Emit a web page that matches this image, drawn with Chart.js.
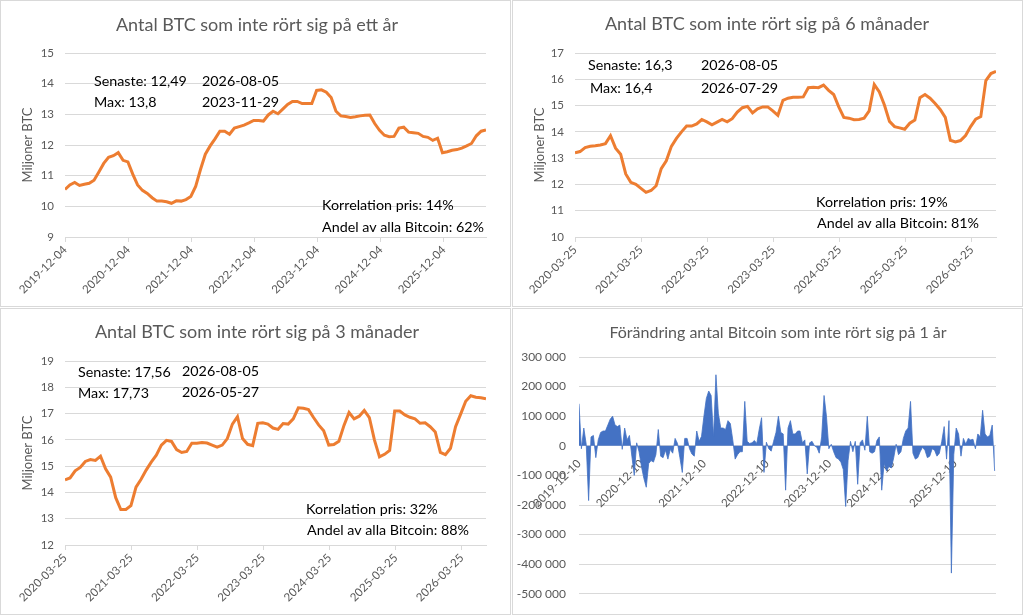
<!DOCTYPE html>
<html>
<head>
<meta charset="utf-8">
<script src="https://cdn.jsdelivr.net/npm/chart.js@4.4.1/dist/chart.umd.min.js"></script>
<style>
  body { margin: 0; background: #fff; width: 1024px; height: 616px; overflow: hidden; }
  .panel { position: absolute; width: 511px; height: 307px; box-sizing: border-box; border: 1px solid #d9d9d9; background: #fff; }
  .panel canvas { position: absolute; left: 0; top: 0; }
</style>
</head>
<body>
<div class="panel" style="left:0;top:0"><canvas id="c1y" width="509" height="305"></canvas></div>
<div class="panel" style="left:512px;top:0"><canvas id="c6m" width="509" height="305"></canvas></div>
<div class="panel" style="left:0;top:308px"><canvas id="c3m" width="509" height="305"></canvas></div>
<div class="panel" style="left:512px;top:308px"><canvas id="cchg" width="509" height="305"></canvas></div>
<script>
// miljoner BTC, one reading every 28 days
const start1y = '2019-12-04';
const end1y = '2026-08-05';
const ticks1y = ['2019-12-04', '2020-12-04', '2021-12-04', '2022-12-04', '2023-12-04', '2024-12-04', '2025-12-04'];
const values1y = [
  10.55, 10.7, 10.78, 10.68, 10.72, 10.75, 10.85, 11.12, 11.4, 11.6,
  11.65, 11.75, 11.5, 11.45, 11.05, 10.7, 10.52, 10.42, 10.28, 10.17,
  10.17, 10.15, 10.1, 10.18, 10.17, 10.22, 10.32, 10.65, 11.2, 11.7,
  11.97, 12.2, 12.45, 12.45, 12.35, 12.55, 12.6, 12.65, 12.72, 12.8,
  12.8, 12.78, 12.98, 13.1, 13.02, 13.17, 13.32, 13.42, 13.42, 13.35,
  13.35, 13.35, 13.78, 13.8, 13.72, 13.55, 13.1, 12.95, 12.93, 12.9,
  12.92, 12.95, 12.97, 12.98, 12.7, 12.48, 12.32, 12.27, 12.28, 12.55,
  12.58, 12.42, 12.4, 12.38, 12.28, 12.25, 12.15, 12.22, 11.75, 11.78,
  11.83, 11.85, 11.9, 11.97, 12.05, 12.3, 12.45, 12.49
];

const start6m = '2020-03-25';
const end6m = '2026-08-05';
const ticks6m = ['2020-03-25', '2021-03-25', '2022-03-25', '2023-03-25', '2024-03-25', '2025-03-25', '2026-03-25'];
const values6m = [
  13.2, 13.25, 13.4, 13.45, 13.47, 13.5, 13.55, 13.85, 13.38, 13.15,
  12.4, 12.08, 12.0, 11.85, 11.7, 11.77, 11.95, 12.6, 12.9, 13.45,
  13.75, 14.0, 14.22, 14.22, 14.3, 14.47, 14.38, 14.27, 14.37, 14.47,
  14.38, 14.5, 14.75, 14.92, 14.97, 14.72, 14.88, 14.95, 14.95, 14.8,
  14.63, 15.2, 15.28, 15.32, 15.32, 15.33, 15.68, 15.7, 15.68, 15.78,
  15.58, 15.42, 14.95, 14.55, 14.52, 14.46, 14.47, 14.52, 14.8, 15.8,
  15.52, 15.02, 14.4, 14.2, 14.15, 14.1, 14.33, 14.45, 15.3, 15.42,
  15.28, 15.08, 14.85, 14.55, 13.68, 13.62, 13.67, 13.86, 14.2, 14.48,
  14.58, 15.95, 16.22, 16.3
];

const start3m = '2020-03-25';
const end3m = '2026-08-05';
const ticks3m = ['2020-03-25', '2021-03-25', '2022-03-25', '2023-03-25', '2024-03-25', '2025-03-25', '2026-03-25'];
const values3m = [
  14.48, 14.55, 14.82, 14.95, 15.18, 15.25, 15.22, 15.38, 14.9, 14.58,
  13.8, 13.35, 13.35, 13.5, 14.2, 14.5, 14.85, 15.15, 15.42, 15.8,
  15.98, 15.94, 15.63, 15.52, 15.56, 15.87, 15.87, 15.9, 15.88, 15.8,
  15.72, 15.8, 16.05, 16.6, 16.88, 16.05, 15.83, 15.78, 16.63, 16.65,
  16.6, 16.45, 16.4, 16.62, 16.6, 16.8, 17.22, 17.2, 17.15, 16.85,
  16.57, 16.35, 15.8, 15.82, 15.95, 16.55, 17.04, 16.8, 16.9, 17.12,
  16.85, 16.0, 15.35, 15.45, 15.6, 17.1, 17.1, 16.95, 16.86, 16.8,
  16.63, 16.65, 16.5, 16.3, 15.52, 15.44, 15.68, 16.5, 16.98, 17.47,
  17.68, 17.62, 17.6, 17.56
];

// change in BTC unmoved for 1 year, one reading every 14 days
const startChg = '2019-12-10';
const endChg = '2026-08-05';
const ticksChg = ['2019-12-10', '2020-12-10', '2021-12-10', '2022-12-10', '2023-12-10', '2024-12-10', '2025-12-10'];
const valuesChg = [
  142000, -10000, 60000, 5000, -185000, 30000, 35000, -40000, 20000, 45000,
  50000, 50000, 70000, 90000, 100000, 70000, 65000, 70000, -12000, 60000,
  20000, 35000, -35000, -100000, 10000, -20000, -70000, -110000, -140000, -60000,
  -50000, -55000, -30000, 55000, -35000, -40000, -15000, -45000, -12000, -25000,
  25000, 8000, -40000, -90000, 25000, 25000, -10000, -28000, -35000, 50000,
  15000, 32000, 100000, 160000, 185000, 170000, 30000, 240000, 110000, 60000,
  60000, 55000, 85000, 75000, 20000, -45000, -30000, -20000, -20000, 150000,
  15000, 8000, 10000, 18000, 8000, 55000, 95000, -90000, 12000, -10000,
  -18000, 15000, 45000, 100000, 45000, 40000, -150000, 60000, 85000, 40000,
  40000, 50000, 50000, 10000, 20000, -95000, 10000, 15000, 0, -5000,
  -25000, 30000, 170000, 100000, -10000, 5000, -20000, -40000, -45000, -55000,
  -80000, -205000, -50000, 15000, -20000, 15000, -130000, 10000, 20000, -15000,
  100000, -20000, -25000, -20000, 18000, 30000, -150000, -60000, -85000, -70000,
  -75000, -40000, 5000, -30000, -20000, 25000, 50000, 60000, 150000, -25000,
  -45000, -40000, -20000, -5000, -15000, -40000, -35000, -10000, -15000, -35000,
  -25000, 15000, 65000, -45000, 85000, -430000, -30000, 60000, 40000, -35000,
  25000, 5000, 25000, 20000, 22000, -10000, 40000, 30000, 120000, 40000,
  30000, 35000, 70000, -85000
];

const W = 509, H = 305;
const GRAY = '#595959';
const GRID = '#d9d9d9';
const FONT = 'Lato';

const dayDiff = (a, b) => Math.round((Date.parse(b) - Date.parse(a)) / 864e5);

function textLayer(title, notes) {
  return {
    id: 'textLayer',
    afterDraw(chart) {
      const ctx = chart.ctx;
      ctx.save();
      ctx.textBaseline = 'middle';
      ctx.textAlign = 'center';
      ctx.fillStyle = GRAY;
      ctx.font = title.size + 'px ' + FONT;
      ctx.fillText(title.text, title.x, title.y);
      ctx.textAlign = 'left';
      ctx.fillStyle = '#000';
      ctx.font = '14.3px ' + FONT;
      notes.forEach(n => ctx.fillText(n.text, n.x, n.y));
      ctx.restore();
    }
  };
}

function lineChart(id, o) {
  const points = o.values.map((v, i) => ({ x: i * o.step, y: v }));
  const tickDays = o.ticks.map(t => dayDiff(o.start, t));
  return new Chart(document.getElementById(id), {
    type: 'line',
    data: {
      datasets: [{
        data: points,
        borderColor: '#ED7D31',
        borderWidth: 3,
        pointRadius: 0,
        tension: 0
      }]
    },
    options: {
      responsive: false,
      animation: false,
      layout: { padding: { top: o.area.top, right: W - o.area.right, left: 0, bottom: 0 } },
      plugins: { legend: { display: false }, tooltip: { enabled: false } },
      scales: {
        x: {
          type: 'linear',
          min: 0,
          max: dayDiff(o.start, o.end),
          afterBuildTicks: s => { s.ticks = tickDays.map(v => ({ value: v })); },
          afterFit: s => { s.height = H - o.area.bottom; },
          grid: { drawOnChartArea: false, color: GRID, tickLength: 5 },
          border: { color: GRID },
          ticks: {
            autoSkip: false, minRotation: 45, maxRotation: 45, padding: 1,
            color: GRAY, font: { family: FONT, size: 11.5 },
            callback: (v, i) => o.ticks[i]
          }
        },
        y: {
          min: o.min,
          max: o.max,
          afterFit: s => { s.width = o.area.left; },
          grid: { color: GRID, drawTicks: false },
          border: { display: false },
          ticks: { stepSize: 1, padding: 11, color: GRAY, font: { family: FONT, size: 11.5 } },
          title: {
            display: true, text: 'Miljoner BTC', color: GRAY,
            font: { family: FONT, size: 13 }, padding: { top: 19, bottom: 0 }
          }
        }
      }
    },
    plugins: [textLayer(o.title, o.notes)]
  });
}

lineChart('c1y', {
  start: start1y, end: end1y, ticks: ticks1y, values: values1y, step: 28,
  min: 9, max: 15,
  area: { left: 64, right: 485, top: 52, bottom: 236 },
  title: { text: 'Antal BTC som inte rört sig på ett år', size: 18, x: 256, y: 24 },
  notes: [
    { text: 'Senaste: 12,49', x: 93, y: 80 },
    { text: '2026-08-05', x: 201, y: 80 },
    { text: 'Max: 13,8', x: 93, y: 101 },
    { text: '2023-11-29', x: 201, y: 101 },
    { text: 'Korrelation pris: 14%', x: 321, y: 204 },
    { text: 'Andel av alla Bitcoin: 62%', x: 321, y: 226 }
  ]
});

lineChart('c6m', {
  start: start6m, end: end6m, ticks: ticks6m, values: values6m, step: 28,
  min: 10, max: 17,
  area: { left: 62, right: 483, top: 52, bottom: 236 },
  title: { text: 'Antal BTC som inte rört sig på 6 månader', size: 18, x: 254, y: 23 },
  notes: [
    { text: 'Senaste: 16,3', x: 75, y: 64 },
    { text: '2026-08-05', x: 188, y: 64 },
    { text: 'Max: 16,4', x: 77, y: 87 },
    { text: '2026-07-29', x: 188, y: 87 },
    { text: 'Korrelation pris: 19%', x: 303, y: 201 },
    { text: 'Andel av alla Bitcoin: 81%', x: 304, y: 222 }
  ]
});

lineChart('c3m', {
  start: start3m, end: end3m, ticks: ticks3m, values: values3m, step: 28,
  min: 12, max: 19,
  area: { left: 64, right: 485, top: 52, bottom: 236 },
  title: { text: 'Antal BTC som inte rört sig på 3 månader', size: 18, x: 256, y: 23 },
  notes: [
    { text: 'Senaste: 17,56', x: 77, y: 63 },
    { text: '2026-08-05', x: 181, y: 62 },
    { text: 'Max: 17,73', x: 77, y: 84 },
    { text: '2026-05-27', x: 181, y: 83 },
    { text: 'Korrelation pris: 32%', x: 305, y: 200 },
    { text: 'Andel av alla Bitcoin: 88%', x: 306, y: 221 }
  ]
});

// change chart
const fmtSpace = v => (v < 0 ? '-' : '') + String(Math.abs(v)).replace(/\B(?=(\d{3})+(?!\d))/g, ' ');
const chgArea = { left: 66, right: 483, top: 48, bottom: 291 };
const chgTickDays = ticksChg.map(t => dayDiff(startChg, t));
new Chart(document.getElementById('cchg'), {
  type: 'line',
  data: {
    datasets: [{
      data: valuesChg.map((v, i) => ({ x: i * 14, y: v })),
      borderColor: '#4472C4',
      backgroundColor: '#4472C4',
      borderWidth: 0.8,
      pointRadius: 0,
      fill: 'origin',
      tension: 0
    }]
  },
  options: {
    responsive: false,
    animation: false,
    layout: { padding: { top: chgArea.top, right: W - chgArea.right, left: 0, bottom: 0 } },
    plugins: { legend: { display: false }, tooltip: { enabled: false } },
    scales: {
      x: {
        type: 'linear',
        position: { y: 0 },
        min: 0,
        max: dayDiff(startChg, endChg),
        afterBuildTicks: s => { s.ticks = chgTickDays.map(v => ({ value: v })); },
        afterFit: s => { s.height = H - chgArea.bottom; },
        grid: { display: false },
        border: { display: false },
        ticks: {
          autoSkip: false, minRotation: 45, maxRotation: 45, padding: 3,
          color: GRAY, font: { family: FONT, size: 11.5 },
          callback: (v, i) => ticksChg[i]
        }
      },
      y: {
        min: -500000,
        max: 300000,
        afterFit: s => { s.width = chgArea.left; },
        grid: { color: GRID, drawTicks: false },
        border: { display: false },
        ticks: { stepSize: 100000, padding: 13, color: GRAY, font: { family: FONT, size: 12 }, callback: v => fmtSpace(v) }
      }
    }
  },
  plugins: [textLayer({ text: 'Förändring antal Bitcoin som inte rört sig på 1 år', size: 16, x: 265, y: 24 }, [])]
});
</script>
</body>
</html>
